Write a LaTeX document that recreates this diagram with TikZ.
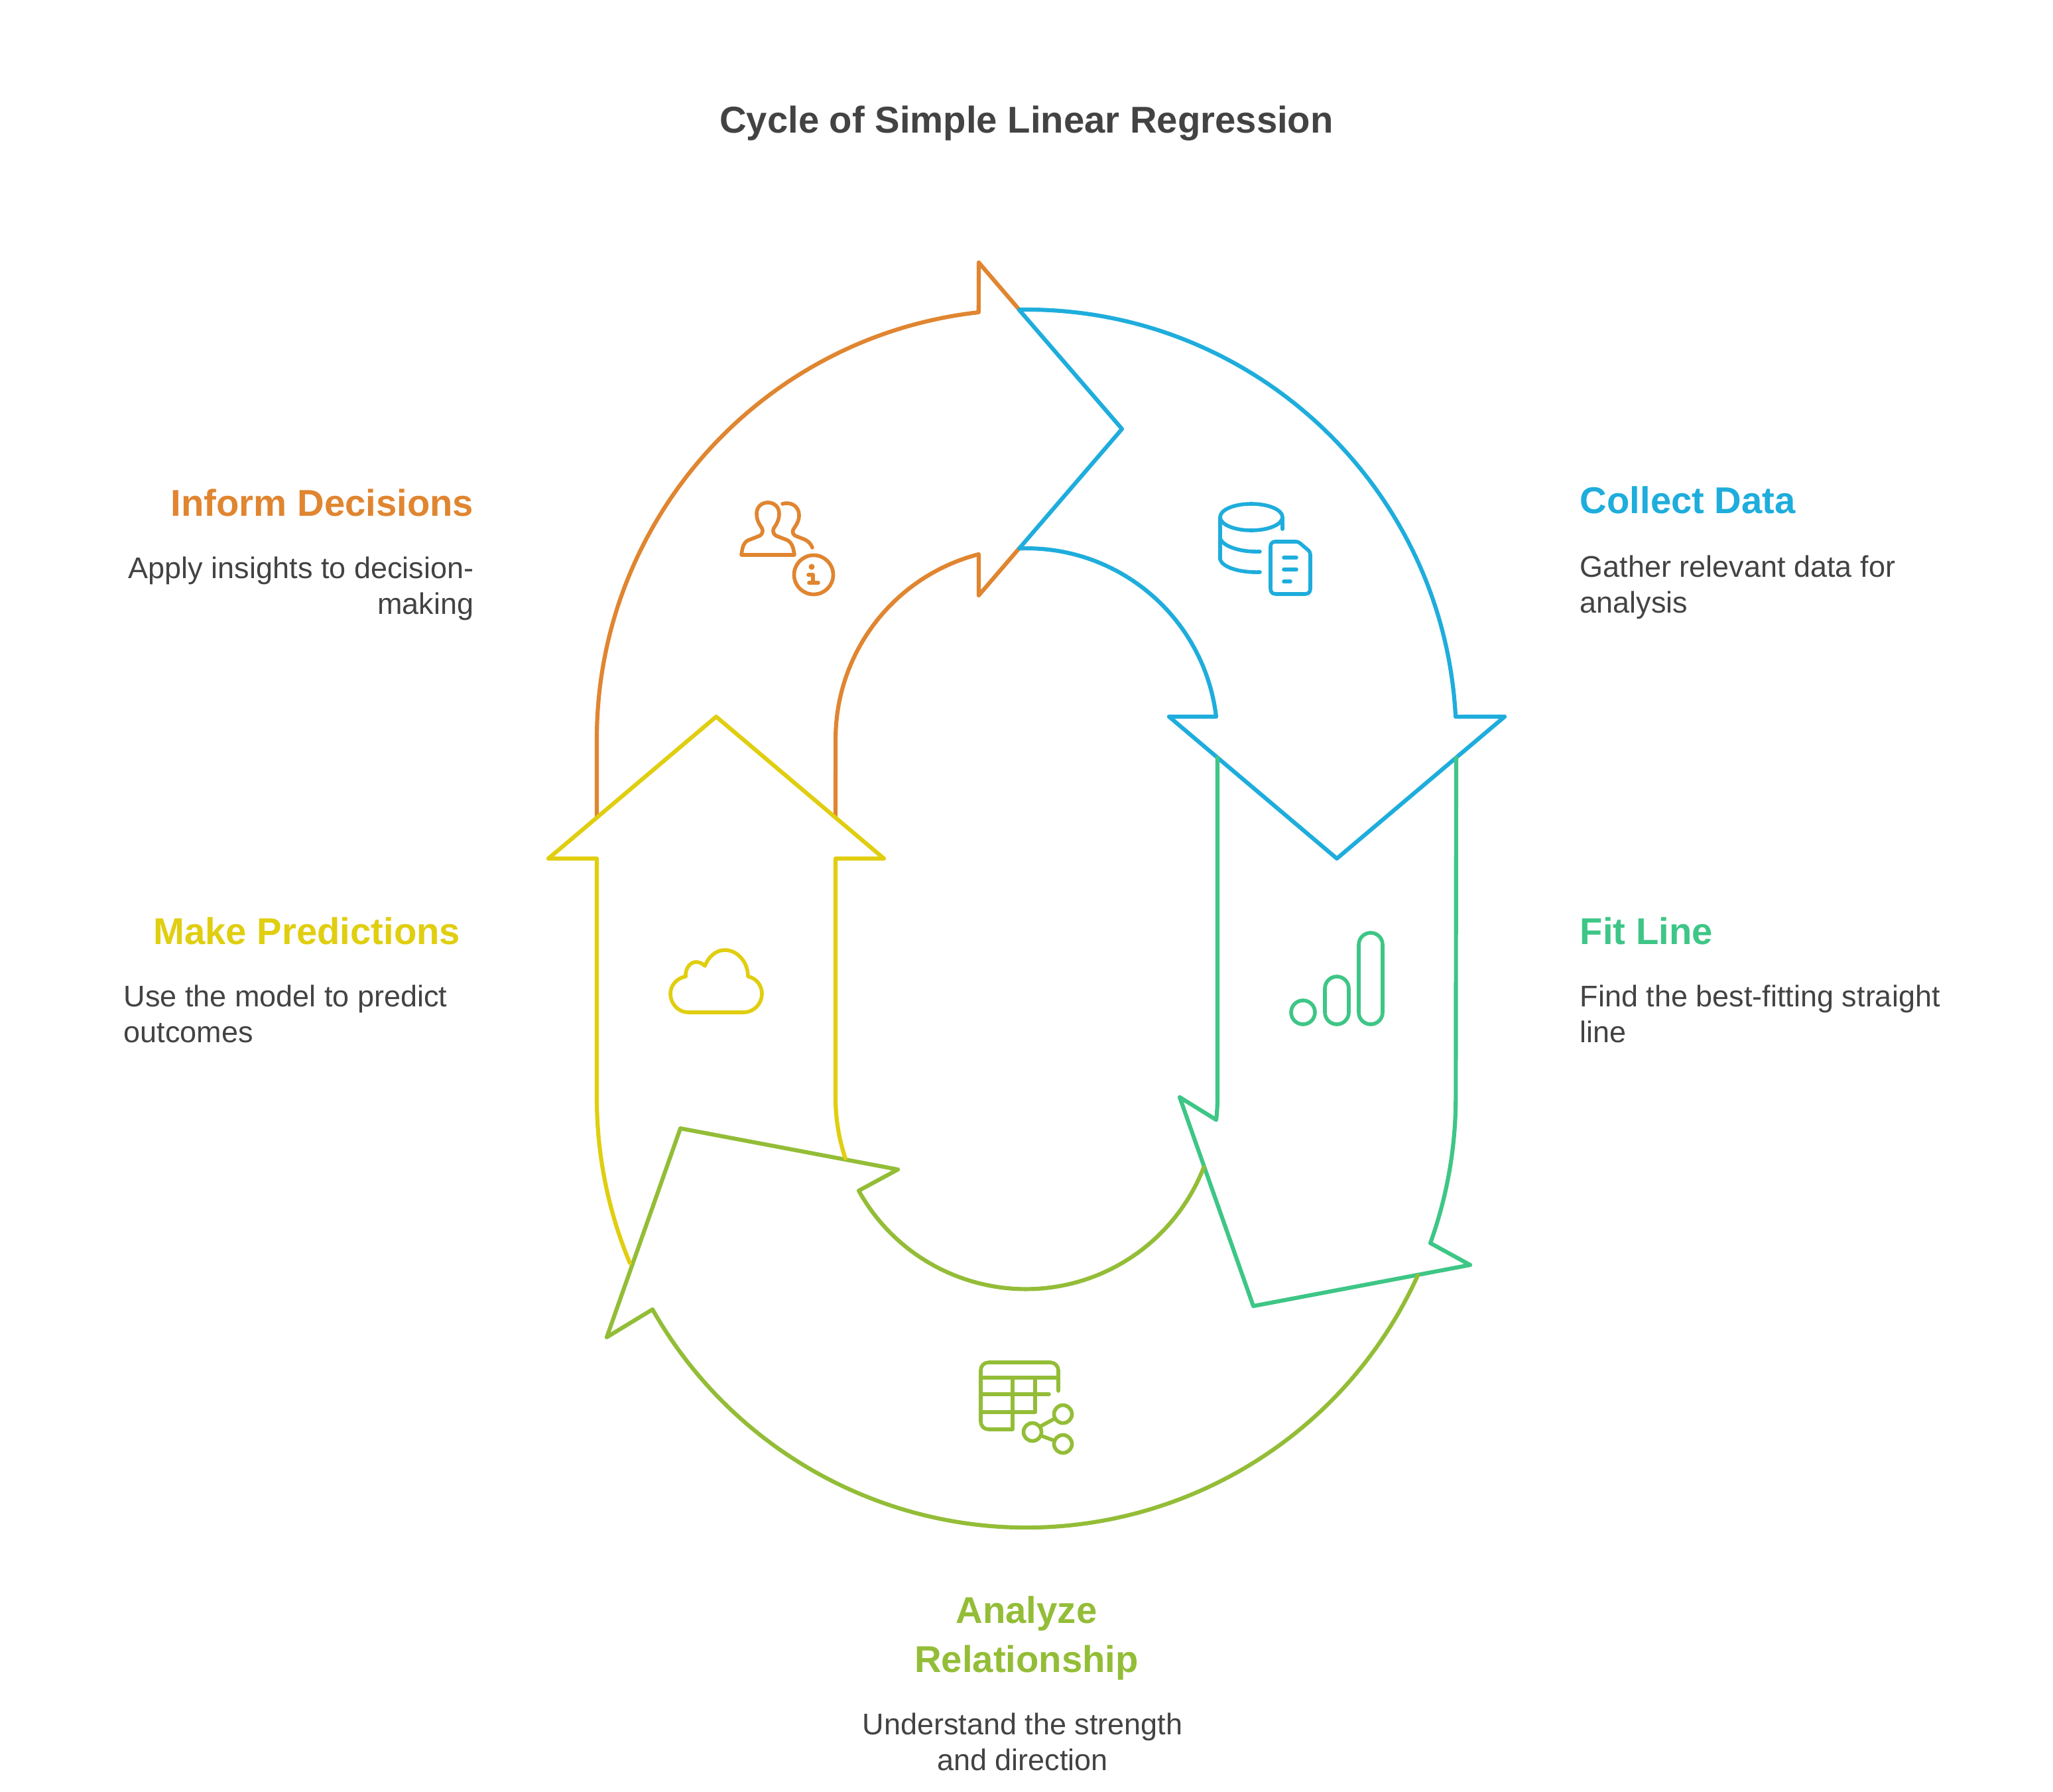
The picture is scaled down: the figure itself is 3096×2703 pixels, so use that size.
\documentclass[tikz,border=0pt]{standalone}
\usepackage{fontspec}
\setmainfont{Liberation Sans}
\usetikzlibrary{calc, positioning}
\definecolor{informCol}{HTML}{E08530}
\definecolor{collectCol}{HTML}{1EADDC}
\definecolor{fitCol}{HTML}{3EC686}
\definecolor{analyzeCol}{HTML}{93BD37}
\definecolor{predictCol}{HTML}{E0CE10}
\definecolor{bodyCol}{HTML}{434343}
\tikzset{
  bandline/.style={line width=1.75pt, line join=round, line cap=round},
  iconline/.style={line width=1.6pt, line join=round, line cap=round},
  headtext/.style={font=\fontsize{16}{20.8}\selectfont\bfseries, inner sep=0pt},
  bodytext/.style={font=\fontsize{12.8}{15.4}\selectfont, text=bodyCol, inner sep=0pt}
}
\begin{document}
\begin{tikzpicture}[x=0.01cm, y=0.01cm]
    \useasboundingbox (0,0) rectangle (3096,-2703);
    \coordinate (cTop) at (1548,-1115);
    \coordinate (cBot) at (1548,-1656);

    % Title
    \node[headtext, text=bodyCol] (title) at (1548,-186) {Cycle of Simple Linear Regression};

    % Inform Decisions band
    \draw[bandline, informCol] (900,-1233) -- (900,-1115) arc[start angle=180, end angle=96.4, radius=648]
      -- (1476,-396) -- (1537,-467);
    \draw[bandline, informCol] (1537,-827) -- (1476,-898) -- (1476,-836)
      arc[start angle=104.5, end angle=180, radius=288] -- (1260,-1233);

    % Collect Data band
    \draw[bandline, collectCol] (cTop) ++(91:648) arc[start angle=91, end angle=3, radius=648]
      -- (2269,-1081) -- (2016,-1295) -- (1763,-1081) -- (1834,-1081)
      arc[start angle=6.8, end angle=92.2, radius=288] -- (1692,-647) -- cycle;

    % Fit Line band
    \draw[bandline, fitCol] (1836,-1143) -- (1836,-1656) arc[start angle=0, end angle=-6.6, radius=288]
      -- (1779,-1655) -- (1890,-1970) -- (2217,-1908) -- (2157,-1875)
      arc[start angle=-19.8, end angle=0, radius=648] -- (2196,-1143);

    % Analyze Relationship band
    \draw[bandline, analyzeCol] (cBot) ++(-24.4:648) arc[start angle=-24.4, end angle=-150.5, radius=648]
      -- (915,-2017) -- (1026,-1702) -- (1354,-1764) -- (1295,-1796)
      arc[start angle=-151, end angle=-21.3, radius=288];

    % Make Predictions band
    \draw[bandline, predictCol] (cBot) ++(202.6:648) arc[start angle=202.6, end angle=180, radius=648]
      -- (900,-1295) -- (827,-1295) -- (1080,-1081) -- (1333,-1295) -- (1260,-1295) -- (1260,-1656)
      arc[start angle=180, end angle=198.4, radius=288];

    % People icon
    \draw[iconline, informCol] (1118,-837) .. controls (1120,-824) and (1121,-819) .. (1128,-815)
      -- (1146,-808) .. controls (1151,-805) and (1151,-798) .. (1148,-795)
      .. controls (1143,-788) and (1141,-782) .. (1141,-775)
      .. controls (1141,-764) and (1149,-758) .. (1158,-758)
      .. controls (1167,-758) and (1175,-764) .. (1175,-775)
      .. controls (1175,-782) and (1173,-788) .. (1168,-795)
      .. controls (1165,-798) and (1165,-805) .. (1170,-808)
      -- (1188,-815) .. controls (1194,-819) and (1196,-824) .. (1198,-837) -- cycle;
    \draw[iconline, informCol] (1180,-760) .. controls (1193,-756) and (1205,-764) .. (1205,-777)
      .. controls (1205,-785) and (1202,-790) .. (1198,-796)
      .. controls (1194,-801) and (1195,-805) .. (1199,-808)
      -- (1214,-814) .. controls (1220,-817) and (1223,-821) .. (1225,-826);
    \draw[iconline, informCol] (1227,-867) circle[radius=29.5];
    \fill[informCol] (1224,-855) circle[radius=4.5];
    \draw[iconline, informCol] (1219,-867) -- (1226,-867) -- (1226,-879);
    \draw[iconline, informCol] (1220,-879) -- (1234,-879);

    % Database icon
    \draw[iconline, collectCol] (1887,-780) ellipse[x radius=47, y radius=20];
    \draw[iconline, collectCol] (1840,-780) -- (1840,-844) .. controls (1844,-856) and (1870,-864) .. (1900,-863);
    \draw[iconline, collectCol] (1840,-812) .. controls (1844,-824) and (1870,-833) .. (1900,-832);
    \draw[iconline, collectCol] (1934,-780) -- (1934,-798);
    \draw[iconline, collectCol] (1923,-817) -- (1955,-817) .. controls (1957,-817) and (1958,-818) .. (1960,-819)
      -- (1973,-830) .. controls (1975,-832) and (1976,-834) .. (1976,-837) -- (1976,-888)
      .. controls (1976,-893) and (1973,-896) .. (1968,-896) -- (1924,-896)
      .. controls (1919,-896) and (1916,-893) .. (1916,-888) -- (1916,-824)
      .. controls (1916,-820) and (1919,-817) .. (1923,-817) -- cycle;
    \draw[iconline, collectCol] (1936,-841) -- (1955,-841);
    \draw[iconline, collectCol] (1936,-859) -- (1955,-859);
    \draw[iconline, collectCol] (1936,-877) -- (1946,-877);

    % Bars icon
    \draw[iconline, fitCol] (1965,-1527) circle[radius=18];
    \draw[iconline, fitCol, rounded corners=0.18cm] (1998,-1545) rectangle (2034,-1473);
    \draw[iconline, fitCol, rounded corners=0.18cm] (2049,-1545) rectangle (2085,-1407);

    % Table icon
    \draw[iconline, analyzeCol] (1596,-2098) -- (1596,-2067) .. controls (1596,-2060) and (1590,-2055) .. (1584,-2055)
      -- (1491,-2055) .. controls (1484,-2055) and (1479,-2060) .. (1479,-2067) -- (1479,-2144)
      .. controls (1479,-2151) and (1484,-2156) .. (1491,-2156) -- (1527,-2156) -- (1527,-2078);
    \draw[iconline, analyzeCol] (1479,-2078) -- (1596,-2078);
    \draw[iconline, analyzeCol] (1479,-2103) -- (1582,-2103);
    \draw[iconline, analyzeCol] (1479,-2130) -- (1561,-2130) -- (1561,-2078);
    \foreach \cx/\cy in {1603/2133, 1557/2160, 1603/2178} {
      \draw[iconline, analyzeCol] (\cx,-\cy) circle[radius=13.5];
    }
    \draw[iconline, analyzeCol] (1568,-2152) -- (1590,-2140);
    \draw[iconline, analyzeCol] (1571,-2166) -- (1590,-2173);

    % Cloud icon
    \draw[iconline, predictCol] (1038,-1527) -- (1121,-1527) .. controls (1137,-1527) and (1149,-1514) .. (1149,-1499)
      .. controls (1149,-1486) and (1140,-1475) .. (1128,-1473)
      .. controls (1128,-1451) and (1112,-1433) .. (1093,-1433)
      .. controls (1079,-1433) and (1068,-1444) .. (1063,-1457)
      .. controls (1059,-1453) and (1054,-1451) .. (1050,-1451)
      .. controls (1040,-1451) and (1033,-1462) .. (1034,-1473)
      .. controls (1021,-1475) and (1011,-1486) .. (1011,-1499)
      .. controls (1011,-1514) and (1023,-1527) .. (1038,-1527) -- cycle;

    % Labels
    \node[headtext, text=collectCol, anchor=west] (collectHead) at (2382,-754) {Collect Data};
    \node[bodytext, anchor=west, align=left] (collectBody) at (2382,-886) {Gather relevant data for\\analysis};
    \node[headtext, text=fitCol, anchor=west] (fitHead) at (2382,-1404) {Fit Line};
    \node[bodytext, anchor=west, align=left] (fitBody) at (2382,-1529) {Find the best-fitting straight\\line};
    \node[headtext, text=analyzeCol, align=center] (analyzeHead) at (1548,-2471) {Analyze\\Relationship};
    \node[bodytext, align=center] (analyzeBody) at (1542,-2627) {Understand the strength\\and direction};
    \node[headtext, text=predictCol, anchor=east] (predictHead) at (695,-1404) {Make Predictions};
    \node[bodytext, anchor=west, align=left] (predictBody) at (186,-1529) {Use the model to predict\\outcomes};
    \node[headtext, text=informCol, anchor=east] (informHead) at (715,-758) {Inform Decisions};
    \node[bodytext, anchor=east, align=right] (informBody) at (715,-888) {Apply insights to decision-\\making};
\end{tikzpicture}
\end{document}
